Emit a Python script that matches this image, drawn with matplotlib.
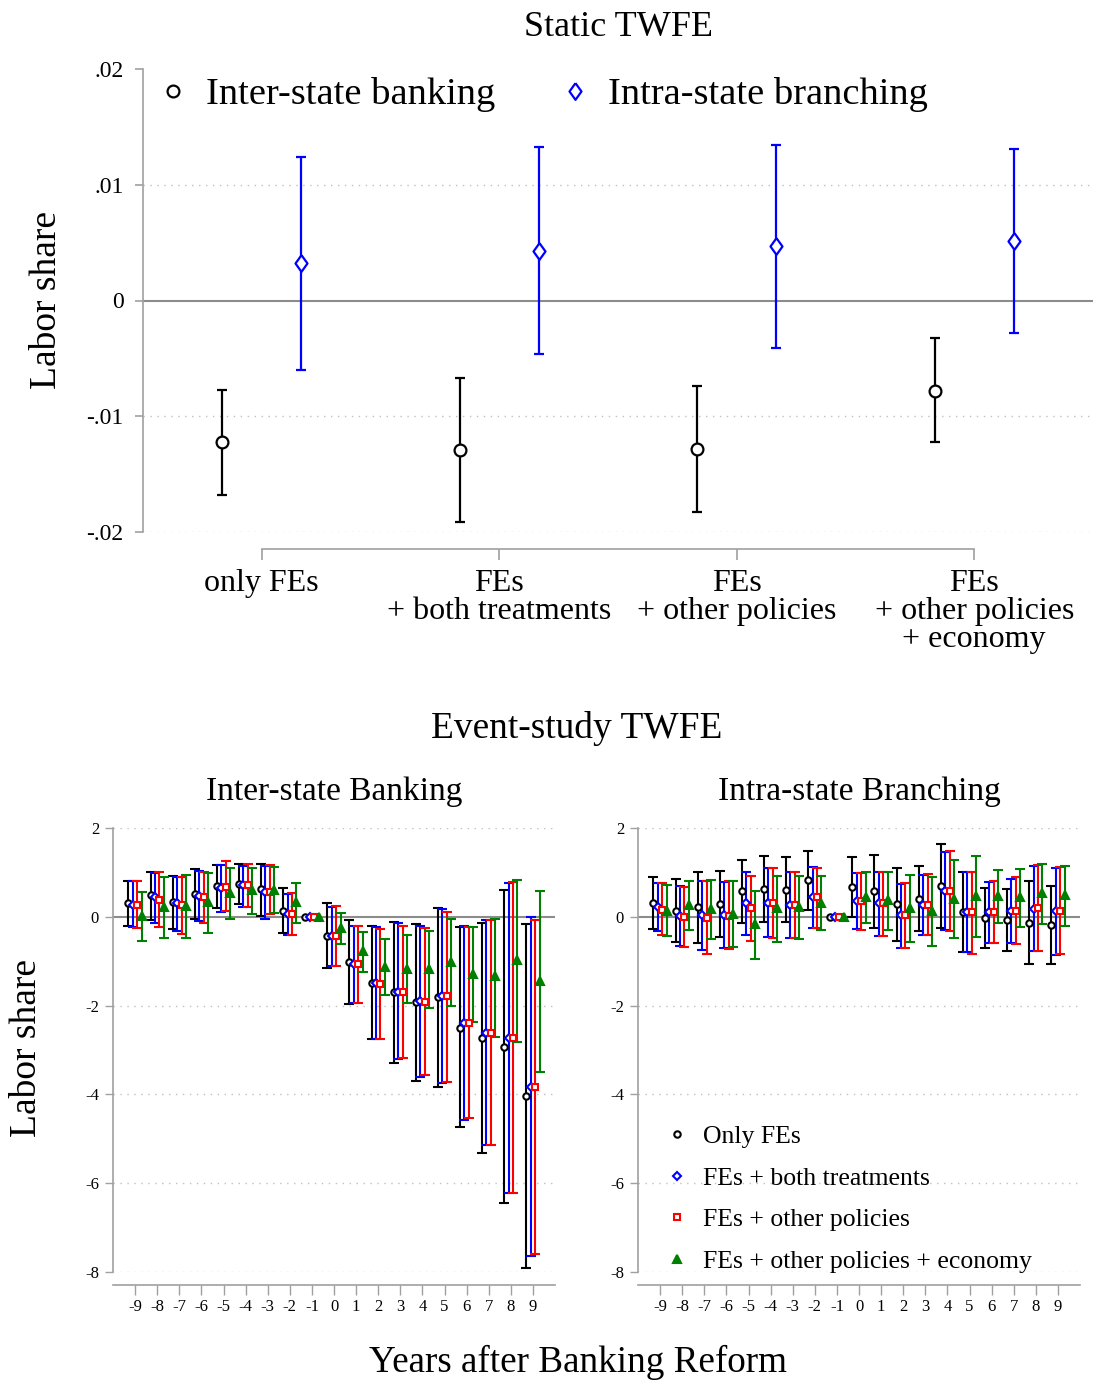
import matplotlib
matplotlib.use("Agg")
import matplotlib.pyplot as plt
from matplotlib.lines import Line2D
import numpy as np

plt.rcParams['font.family'] = ['Liberation Serif', 'DejaVu Serif']

# ---------------- Static TWFE data ----------------
models = ["only FEs", "FEs\n+ both treatments", "FEs\n+ other policies",
          "FEs\n+ other policies\n+ economy"]
inter_b = [-0.0122, -0.0129, -0.0128, -0.0078]
inter_lo = [-0.0168, -0.0191, -0.0183, -0.0122]
inter_hi = [-0.0077, -0.0067, -0.0074, -0.0032]
intra_b = [0.0032, 0.0043, 0.0047, 0.0051]
intra_lo = [-0.0060, -0.0046, -0.0041, -0.0028]
intra_hi = [0.0124, 0.0133, 0.0134, 0.0131]
static_yticks = [0.02, 0.01, 0.0, -0.01, -0.02]
static_yticklabels = [".02", ".01", "0", "-.01", "-.02"]

# ---------------- Event-study data ----------------
years = list(range(-9, 10))

inter_only_b = [0.31, 0.48, 0.33, 0.52, 0.69, 0.74, 0.62, 0.14, 0, -0.44, -1.01, -1.48, -1.70, -1.91, -1.81, -2.50, -2.73, -2.93, -4.03]
inter_only_lo = [-0.20, -0.07, -0.27, -0.04, 0.20, 0.28, 0.02, -0.37, 0, -1.16, -1.97, -2.76, -3.29, -3.69, -3.84, -4.74, -5.33, -6.45, -7.90]
inter_only_hi = [0.80, 1.02, 0.91, 1.07, 1.16, 1.19, 1.20, 0.64, 0, 0.30, -0.07, -0.20, -0.11, -0.16, 0.20, -0.24, -0.14, 0.60, -0.17]

inter_both_b = [0.27, 0.44, 0.32, 0.47, 0.64, 0.71, 0.56, 0.07, 0, -0.44, -1.07, -1.50, -1.69, -1.90, -1.79, -2.39, -2.61, -2.72, -3.83]
inter_both_lo = [-0.24, -0.14, -0.32, -0.10, 0.10, 0.23, -0.04, -0.41, 0, -1.10, -1.95, -2.76, -3.21, -3.60, -3.75, -4.57, -5.15, -6.21, -7.64]
inter_both_hi = [0.80, 0.99, 0.90, 1.03, 1.16, 1.15, 1.14, 0.51, 0, 0.23, -0.20, -0.24, -0.15, -0.20, 0.17, -0.21, -0.07, 0.77, -0.01]

inter_pol_b = [0.26, 0.38, 0.27, 0.44, 0.68, 0.71, 0.56, 0.07, 0, -0.44, -1.07, -1.51, -1.70, -1.91, -1.79, -2.39, -2.61, -2.72, -3.83]
inter_pol_lo = [-0.26, -0.23, -0.38, -0.13, 0.12, 0.23, 0.06, -0.41, 0, -1.11, -1.95, -2.75, -3.19, -3.56, -3.71, -4.54, -5.15, -6.21, -7.60]
inter_pol_hi = [0.80, 1.00, 0.89, 1.02, 1.25, 1.19, 1.16, 0.53, 0, 0.24, -0.21, -0.28, -0.20, -0.25, 0.11, -0.23, -0.08, 0.78, -0.07]

inter_econ_b = [0.01, 0.23, 0.25, 0.33, 0.54, 0.61, 0.61, 0.34, 0, -0.26, -0.78, -1.12, -1.17, -1.17, -1.01, -1.28, -1.34, -0.97, -1.45]
inter_econ_lo = [-0.55, -0.47, -0.47, -0.36, -0.06, 0.07, 0.08, -0.13, 0, -0.62, -1.24, -1.75, -1.94, -2.05, -2.00, -2.38, -2.70, -2.81, -3.50]
inter_econ_hi = [0.56, 0.90, 0.95, 0.98, 1.09, 1.09, 1.13, 0.77, 0, 0.09, -0.35, -0.51, -0.41, -0.32, -0.05, -0.23, -0.04, 0.84, 0.57]

intra_only_b = [0.32, 0.14, 0.21, 0.29, 0.58, 0.63, 0.61, 0.82, 0, 0.67, 0.57, 0.29, 0.41, 0.69, 0.10, -0.03, -0.08, -0.13, -0.18]
intra_only_lo = [-0.27, -0.57, -0.60, -0.45, -0.13, -0.11, -0.11, 0.15, 0, -0.01, -0.26, -0.54, -0.32, -0.25, -0.80, -0.70, -0.77, -1.07, -1.06]
intra_only_hi = [0.90, 0.85, 1.02, 1.03, 1.28, 1.38, 1.34, 1.48, 0, 1.34, 1.40, 1.10, 1.15, 1.64, 1.00, 0.64, 0.62, 0.81, 0.70]

intra_both_b = [0.23, 0.02, 0.03, 0.04, 0.32, 0.32, 0.27, 0.44, 0, 0.35, 0.30, 0.03, 0.26, 0.59, 0.10, 0.10, 0.14, 0.18, 0.13]
intra_both_lo = [-0.33, -0.65, -0.74, -0.70, -0.41, -0.45, -0.47, -0.25, 0, -0.28, -0.43, -0.70, -0.41, -0.29, -0.80, -0.59, -0.60, -0.78, -0.87]
intra_both_hi = [0.77, 0.70, 0.81, 0.79, 1.02, 1.09, 1.02, 1.13, 0, 0.99, 1.02, 0.74, 0.95, 1.46, 1.00, 0.79, 0.86, 1.14, 1.10]

intra_pol_b = [0.16, 0.00, -0.03, 0.01, 0.19, 0.32, 0.27, 0.44, 0, 0.35, 0.30, 0.03, 0.26, 0.59, 0.10, 0.11, 0.14, 0.19, 0.14]
intra_pol_lo = [-0.42, -0.69, -0.83, -0.73, -0.55, -0.47, -0.48, -0.25, 0, -0.29, -0.43, -0.71, -0.42, -0.32, -0.83, -0.59, -0.61, -0.78, -0.83]
intra_pol_hi = [0.76, 0.68, 0.80, 0.80, 0.92, 1.10, 1.01, 1.11, 0, 0.99, 1.02, 0.77, 0.96, 1.49, 1.01, 0.80, 0.89, 1.16, 1.12]

intra_econ_b = [0.14, 0.27, 0.17, 0.07, -0.17, 0.19, 0.21, 0.32, 0, 0.44, 0.38, 0.20, 0.14, 0.41, 0.47, 0.47, 0.44, 0.53, 0.48]
intra_econ_lo = [-0.44, -0.29, -0.50, -0.68, -0.96, -0.57, -0.51, -0.30, 0, -0.15, -0.29, -0.57, -0.65, -0.48, -0.45, -0.14, -0.22, -0.16, -0.20]
intra_econ_hi = [0.72, 0.80, 0.83, 0.80, 0.59, 0.92, 0.92, 0.92, 0, 1.01, 1.00, 0.94, 0.90, 1.29, 1.38, 1.06, 1.08, 1.19, 1.15]

series_labels = ["Only FEs", "FEs + both treatments", "FEs + other policies",
                 "FEs + other policies + economy"]
event_yticks = [2, 0, -2, -4, -6, -8]

# ---------------- styling ----------------
SPINE = "#a0a0a0"
ZERO = "#8c8c8c"
GRID = "#c0c0c0"
BLUE = "#0000ff"
RED = "#ff0000"
GREEN = "#008000"
slim_diamond = [(0, 1), (0.72, 0), (0, -1), (-0.72, 0), (0, 1)]

fig = plt.figure(figsize=(10.93, 13.83), dpi=100)
W, H = 1093, 1383

def fx(px):
    return px / W

def fy(py):
    return 1 - py / H

# ================= Static TWFE =================
ax = fig.add_axes([fx(143), fy(532), fx(1093 - 143), (532 - 69) / H])
pos = np.arange(1, len(models) + 1)
off = 0.167
ax.errorbar(pos - off, inter_b,
            yerr=[np.array(inter_b) - np.array(inter_lo), np.array(inter_hi) - np.array(inter_b)],
            fmt='o', color='black', mfc='white', mec='black', ms=8.5, mew=1.6,
            elinewidth=1.6, capsize=3.5, capthick=1.6, zorder=3)
ax.errorbar(pos + off, intra_b,
            yerr=[np.array(intra_b) - np.array(intra_lo), np.array(intra_hi) - np.array(intra_b)],
            fmt='none', ecolor=BLUE, elinewidth=1.6, capsize=3.5, capthick=1.6, zorder=3)
ax.plot(pos + off, intra_b, linestyle='none', marker=slim_diamond, ms=12,
        mfc='white', mec=BLUE, mew=1.6, zorder=4)
ax.set_xlim(0.5, 4.5)
ax.set_ylim(-0.02, 0.02)
for g in [0.01, -0.01, -0.02]:
    ax.axhline(g, color=GRID, lw=1.0, ls=(0, (1, 4)), zorder=0)
ax.axhline(0, color=ZERO, lw=1.5, zorder=1)
for s in ['top', 'right']:
    ax.spines[s].set_visible(False)
ax.spines['left'].set_color(SPINE)
ax.spines['bottom'].set_color(SPINE)
ax.spines['bottom'].set_position(('outward', 12.5))
ax.spines['bottom'].set_bounds(1, 4)
ax.spines['left'].set_linewidth(1.2)
ax.spines['bottom'].set_linewidth(1.2)
ax.set_yticks(static_yticks)
ax.set_yticklabels(static_yticklabels, fontsize=17)
ax.set_xticks(pos)
ax.set_xticklabels(models, fontsize=23, linespacing=0.95)
ax.tick_params(axis='both', colors=SPINE, labelcolor='black', width=1.2)
ax.tick_params(axis='y', length=6, pad=8)
ax.tick_params(axis='x', length=8, pad=6)

h1 = Line2D([], [], linestyle='none', marker='o', ms=8.5, mfc='white', mec='black', mew=1.6)
h2 = Line2D([], [], linestyle='none', marker=slim_diamond, ms=12, mfc='white', mec=BLUE, mew=1.6)
ax.legend([h1, h2], ["Inter-state banking", "Intra-state branching"], ncol=2,
          loc='center left', bbox_to_anchor=(fx(158), fy(95)), bbox_transform=fig.transFigure,
          frameon=False, fontsize=27.7, handlelength=0.8, handletextpad=0.45,
          columnspacing=1.67, borderpad=0, borderaxespad=0)

fig.text(fx(47), fy(300), "Labor share", rotation=90, ha='center', va='center', fontsize=27)
fig.text(fx(618), fy(27), "Static TWFE", ha='center', va='center', fontsize=26)

# ================= Event-study =================
fig.text(fx(577), fy(729), "Event-study TWFE", ha='center', va='center', fontsize=26.9)

colors = ['black', BLUE, RED, GREEN]
markers = ['o', 'D', 's', '^']
msizes = [4.6, 4.2, 4.6, 5.5]
mfcs = ['white', 'white', 'white', GREEN]
offsets = [-0.3, -0.1, 0.1, 0.3]

panels = [
    ("Inter-state Banking", 113,
     [(inter_only_b, inter_only_lo, inter_only_hi),
      (inter_both_b, inter_both_lo, inter_both_hi),
      (inter_pol_b, inter_pol_lo, inter_pol_hi),
      (inter_econ_b, inter_econ_lo, inter_econ_hi)]),
    ("Intra-state Branching", 638,
     [(intra_only_b, intra_only_lo, intra_only_hi),
      (intra_both_b, intra_both_lo, intra_both_hi),
      (intra_pol_b, intra_pol_lo, intra_pol_hi),
      (intra_econ_b, intra_econ_lo, intra_econ_hi)]),
]

yrs = np.array(years, dtype=float)
axes_ev = []
for title, left_px, series in panels:
    a = fig.add_axes([fx(left_px), fy(1272), 442 / W, (1272 - 828) / H])
    axes_ev.append(a)
    for k, (b, lo, hi) in enumerate(series):
        b = np.array(b); lo = np.array(lo); hi = np.array(hi)
        x = yrs + offsets[k]
        mask = yrs != -1
        a.errorbar(x[mask], b[mask], yerr=[b[mask] - lo[mask], hi[mask] - b[mask]],
                   fmt='none', ecolor=colors[k], elinewidth=1.5, capsize=3.5,
                   capthick=1.5, zorder=2 + k)
        a.plot(x, b, linestyle='none', marker=markers[k], ms=msizes[k],
               mfc=mfcs[k], mec=colors[k], mew=1.5, zorder=10 + k)
    a.set_xlim(-10, 10)
    a.set_ylim(-8, 2)
    for g in [2, -2, -4, -6, -8]:
        a.axhline(g, color=GRID, lw=1.0, ls=(0, (1, 4)), zorder=0)
    a.axhline(0, color=ZERO, lw=1.5, zorder=1)
    for s in ['top', 'right']:
        a.spines[s].set_visible(False)
    a.spines['left'].set_color(SPINE)
    a.spines['bottom'].set_color(SPINE)
    a.spines['left'].set_linewidth(1.2)
    a.spines['bottom'].set_linewidth(1.2)
    a.spines['bottom'].set_position(('outward', 9.5))
    a.set_xticks(years)
    a.set_xticklabels([str(v) for v in years], fontsize=12)
    a.set_yticks(event_yticks)
    a.set_yticklabels([str(v) for v in event_yticks], fontsize=12)
    a.tick_params(axis='both', colors=SPINE, labelcolor='black', width=1.0)
    a.tick_params(axis='x', length=7, pad=3)
    a.tick_params(axis='y', length=6, pad=4)
    fig.text(fx(left_px + 221), fy(792), title, ha='center', va='center', fontsize=24)

handles = [Line2D([], [], linestyle='none', marker=markers[k], ms=msizes[k],
                  mfc=mfcs[k], mec=colors[k], mew=1.5) for k in range(4)]
axes_ev[1].legend(handles, series_labels, loc='center left',
                  bbox_to_anchor=(fx(667), fy(1199)), bbox_transform=fig.transFigure,
                  frameon=False, fontsize=18.5, handlelength=0.8, handletextpad=0.62,
                  labelspacing=0.72, borderpad=0, borderaxespad=0)

fig.text(fx(27), fy(1048), "Labor share", rotation=90, ha='center', va='center', fontsize=27)
fig.text(fx(578), fy(1362), "Years after Banking Reform", ha='center', va='center', fontsize=26.7)

fig.savefig("out.png", dpi=100)
